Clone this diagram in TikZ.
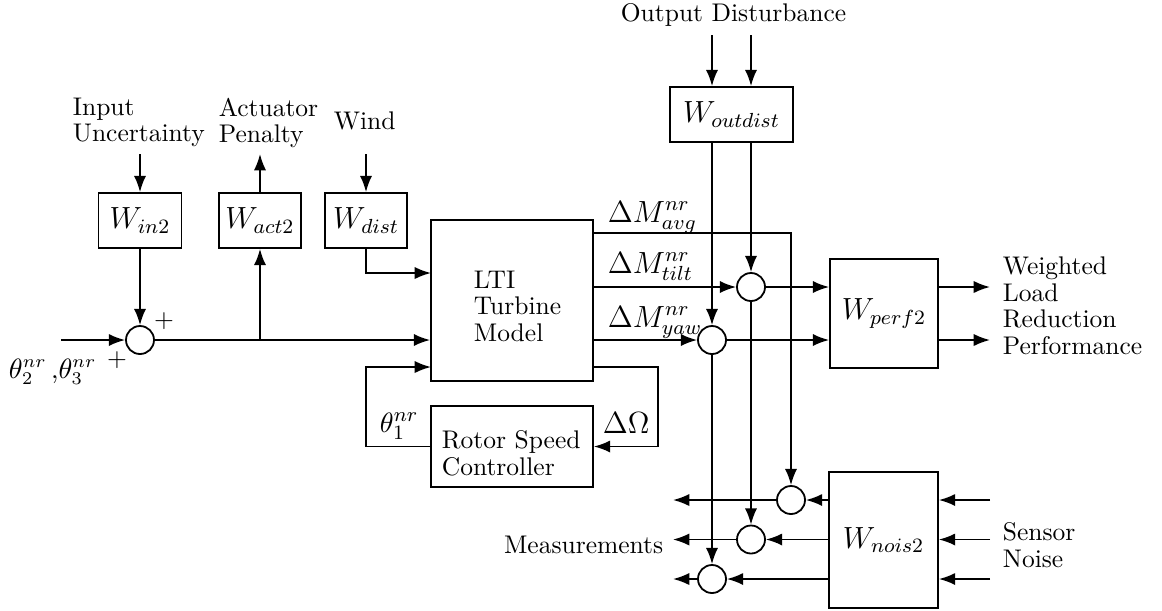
\documentclass[tikz,border=0pt]{standalone}
\usetikzlibrary{arrows.meta}
\newlength\px
\setlength\px{0.392pt}
\begin{document}
\begin{tikzpicture}[x=0.392pt,y=-0.392pt, line width=0.7pt,
  >={Latex[length=6.4pt,width=4.8pt]},
  blk/.style={draw, rectangle, inner sep=0pt, font=\fontsize{11.5}{13}\selectfont},
  sumc/.style={draw, circle, minimum size=28*\px, inner sep=0pt},
  txt/.style={inner sep=0pt, font=\fontsize{10}{10.4}\selectfont, align=left},
  mth/.style={inner sep=0pt, font=\fontsize{11.5}{13}\selectfont}]
\useasboundingbox (0,0) rectangle (1162,610);

% blocks
\node[blk, minimum width=83*\px, minimum height=55*\px] (win) at (140,220.5) {$W_{in2}$};
\node[blk, minimum width=82*\px, minimum height=55*\px] (wact) at (260,220.5) {$W_{act2}$};
\node[blk, minimum width=82*\px, minimum height=55*\px] (wdist) at (366,220.5) {$W_{dist}$};
\node[blk, minimum width=162*\px, minimum height=161*\px] (lti) at (512,300.5) {};
\node[blk, minimum width=162*\px, minimum height=81*\px] (rsc) at (512,446.5) {};
\node[blk, minimum width=123*\px, minimum height=55*\px] (wout) at (731.5,114.5) {$W_{outdist}$};
\node[blk, minimum width=108*\px, minimum height=109*\px] (wperf) at (884,313.5) {$W_{perf2}$};
\node[blk, minimum width=109*\px, minimum height=136*\px] (wnois) at (883.5,540) {$W_{nois2}$};

% summing junctions
\node[sumc] (s0) at (140,340) {};
\node[sumc] (stilt) at (751,287) {};
\node[sumc] (syaw) at (712,340) {};
\node[sumc] (m1) at (791,500) {};
\node[sumc] (m2) at (751,539.5) {};
\node[sumc] (m3) at (712,579) {};

% texts
\node[txt, anchor=north west] (tiu) at (72,97) {Input\\Uncertainty};
\node[txt, anchor=north west] (tap) at (218,97) {Actuator\\Penalty};
\node[txt, anchor=base west] (twind) at (333,129) {Wind};
\node[txt, anchor=base west] (tod) at (620,21) {Output Disturbance};
\node[txt, anchor=north west] (tlti) at (473,270) {LTI\\Turbine\\Model};
\node[txt, anchor=north west] (trsc) at (441,430) {Rotor Speed\\Controller};
\node[txt, anchor=north west] (twl) at (1002,256) {Weighted\\Load\\Reduction\\Performance};
\node[txt, anchor=north west] (tsn) at (1002,522) {Sensor\\Noise};
\node[txt, anchor=base east] (tmeas) at (664,553) {Measurements};

\node[mth, anchor=base west] (lavg) at (607,222) {$\Delta M_{avg}^{nr}$};
\node[mth, anchor=base west] (ltilt) at (607,273) {$\Delta M_{tilt}^{nr}$};
\node[mth, anchor=base west] (lyaw) at (607,327) {$\Delta M_{yaw}^{nr}$};
\node[mth, anchor=base west] (ldo) at (602,433) {$\Delta\Omega$};
\node[mth, anchor=base west, font=\fontsize{11}{13}\selectfont] (lth1) at (379,432) {$\theta_1^{nr}$};
\node[mth, anchor=base west, font=\fontsize{10.5}{13}\selectfont] (lth23) at (8,378) {$\theta_2^{nr}$\,,$\theta_3^{nr}$};
\node[txt] (p1) at (164,321) {$+$};
\node[txt] (p2) at (117,360) {$+$};

% coordinates
\coordinate (iu) at (140,154);
\coordinate (ap) at (260,154);
\coordinate (wi) at (366,154);
\coordinate (in) at (61,340);
\coordinate (br) at (260,340);
\coordinate (l1) at (431,273);
\coordinate (l3) at (431,367);
\coordinate (fbL) at (366,446.5);
\coordinate (r1) at (593,233);
\coordinate (r2) at (593,287);
\coordinate (r3) at (593,340);
\coordinate (r4) at (593,367);
\coordinate (fbR) at (658,446.5);
\coordinate (od1) at (712,35);
\coordinate (od2) at (751,35);
\coordinate (o1) at (990,287);
\coordinate (o2) at (990,340);
\coordinate (n1) at (990,500);
\coordinate (n2) at (990,539.5);
\coordinate (n3) at (990,579);
\coordinate (me1) at (673,500);
\coordinate (me2) at (673,539.5);
\coordinate (me3) at (673,579);

% connectors left part
\draw[->] (iu) -- (win.north);
\draw[->] (win.south) -- (s0.north);
\draw[->] (in) -- (s0.west);
\draw[->] (s0.east) -- (s0.east -| lti.west);
\draw[->] (br) -- (wact.south);
\draw[->] (wact.north) -- (ap);
\draw[->] (wi) -- (wdist.north);
\draw[->] (wdist.south) |- (l1);
\draw[->] (rsc.west) -- (fbL) |- (l3);
\draw[->] (r4) -| (fbR) -- (rsc.east);

% outputs of LTI
\draw[->] (r1) -| (m1.north);
\draw[->] (r2) -- (stilt.west);
\draw[->] (r3) -- (syaw.west);

% output disturbance
\draw[->] (od1) -- (od1 |- wout.north);
\draw[->] (od2) -- (od2 |- wout.north);
\draw[->] (od1 |- wout.south) -- (syaw.north);
\draw[->] (od2 |- wout.south) -- (stilt.north);

% to performance
\draw[->] (stilt.east) -- (stilt.east -| wperf.west);
\draw[->] (syaw.east) -- (syaw.east -| wperf.west);
\draw[->] (o1 -| wperf.east) -- (o1);
\draw[->] (o2 -| wperf.east) -- (o2);

% to measurements
\draw[->] (stilt.south) -- (m2.north);
\draw[->] (syaw.south) -- (m3.north);
\draw[->] (n1) -- (n1 -| wnois.east);
\draw[->] (n2) -- (n2 -| wnois.east);
\draw[->] (n3) -- (n3 -| wnois.east);
\draw[->] (m1.east -| wnois.west) -- (m1.east);
\draw[->] (m2.east -| wnois.west) -- (m2.east);
\draw[->] (m3.east -| wnois.west) -- (m3.east);
\draw[->] (m1.west) -- (me1);
\draw[->] (m2.west) -- (me2);
\draw[->] (m3.west) -- (me3);
\end{tikzpicture}
\end{document}
